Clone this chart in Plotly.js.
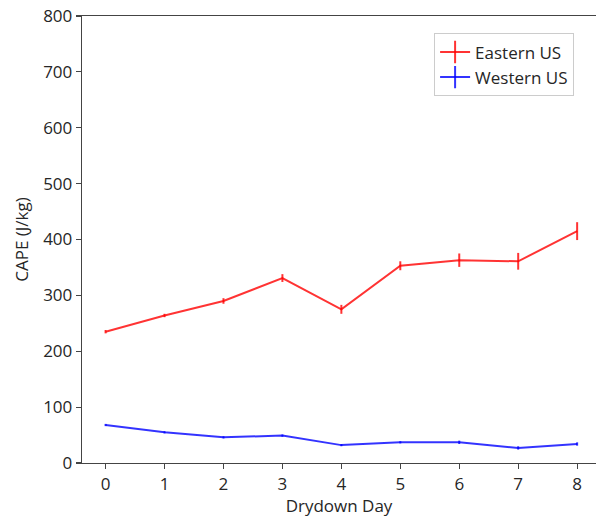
<!DOCTYPE html>
<html>
<head>
<meta charset="utf-8">
<script src="https://cdn.plot.ly/plotly-3.0.1.min.js"></script>
<style>html,body{margin:0;padding:0;background:#fff;}#chart{width:596px;height:517px;}</style>
</head>
<body>
<div id="chart"></div>
<script>
const days = [0, 1, 2, 3, 4, 5, 6, 7, 8];
const eastern = [235, 264, 290, 331, 275, 353, 363, 361, 415];
const easternErr = [3, 3, 5, 7, 8, 8, 12, 15, 16];
const western = [68, 55, 46, 49, 32, 37, 37, 27, 34];
const westernErr = [2, 2, 2, 2, 2, 2, 3, 3, 3];
const seriesNames = ['Eastern US', 'Western US'];
const yTicks = [0, 100, 200, 300, 400, 500, 600, 700, 800];

const red = 'rgba(255,0,0,0.8)';
const blue = 'rgba(0,0,255,0.8)';

function series(y, err, color) {
  return {
    x: days, y: y, type: 'scatter', mode: 'lines', showlegend: false,
    line: {color: color, width: 2},
    error_y: {type: 'data', array: err, visible: true, color: color, thickness: 2, width: 0}
  };
}
function legendItem(name, color) {
  return {
    x: [null], y: [null], type: 'scatter', mode: 'lines+markers', name: name,
    line: {color: color, width: 2},
    marker: {symbol: 'line-ns-open', size: 16, color: color, line: {color: color, width: 2}}
  };
}

const data = [
  series(eastern, easternErr, red),
  series(western, westernErr, blue),
  legendItem(seriesNames[0], red),
  legendItem(seriesNames[1], blue)
];

const layout = {
  width: 596, height: 517,
  margin: {l: 82, r: 0, t: 16, b: 54},
  paper_bgcolor: '#fff', plot_bgcolor: '#fff',
  font: {family: 'Open Sans', size: 17, color: '#262626'},
  xaxis: {
    range: [-0.4, 8.32], tickvals: days, ticks: 'outside', ticklen: 5, tickwidth: 1.2, tickcolor: '#444',
    showline: true, linecolor: '#444', linewidth: 1.3, mirror: true, showgrid: false, zeroline: false,
    tickfont: {size: 17},
    title: {text: 'Drydown Day', font: {size: 17}, standoff: 5}
  },
  yaxis: {
    range: [0, 800], tickvals: yTicks, ticks: 'outside', ticklen: 5, tickwidth: 1.2, tickcolor: '#444',
    showline: true, linecolor: '#444', linewidth: 1.3, showgrid: false, zeroline: false,
    tickfont: {size: 17},
    title: {text: 'CAPE (J/kg)', font: {size: 17}, standoff: 10}
  },
  legend: {
    x: 0.685, y: 0.961, xanchor: 'left', yanchor: 'top',
    bgcolor: '#fff', bordercolor: '#ccc', borderwidth: 1,
    font: {size: 17, color: '#262626'}, tracegroupgap: 0
  }
};

Plotly.newPlot('chart', data, layout, {displayModeBar: false, staticPlot: true});
</script>
</body>
</html>
